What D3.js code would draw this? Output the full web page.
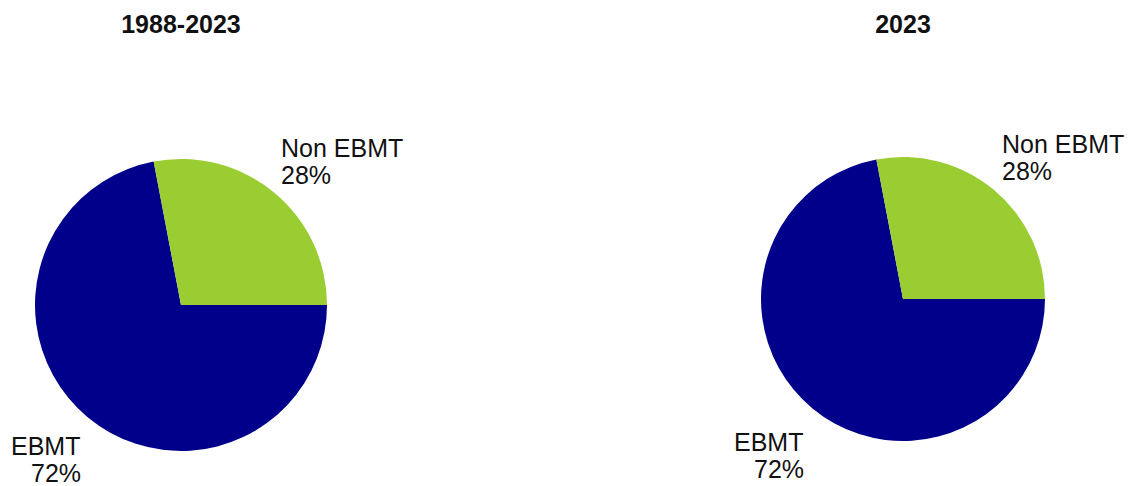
<!DOCTYPE html>
<html><head><meta charset="utf-8">
<script src="https://cdn.jsdelivr.net/npm/d3@7"></script>
<style>body{margin:0;background:#fff}svg{display:block}text{font-family:"Liberation Sans",Arial,sans-serif}</style>
</head><body>
<script>
const categories = ["EBMT", "Non EBMT"];
const panelTitles = ["1988-2023", "2023"];
const values1988_2023 = [72, 28];
const values2023 = [72, 28];
const colors = ["#00008B", "#9ACD32"];

const W = 1133, H = 486;
const svg = d3.select("body").append("svg").attr("width", W).attr("height", H);

const panels = [
  {title: panelTitles[0], values: values1988_2023, cx: 181, cy: 305, r: 146, titleY: 33,
   labels: [{x: 11, y: 455, dx2: 20}, {x: 281, y: 157, dx2: 0}]},
  {title: panelTitles[1], values: values2023, cx: 903, cy: 299, r: 142, titleY: 33,
   labels: [{x: 734, y: 451, dx2: 20}, {x: 1002, y: 153, dx2: 0}]}
];

const pie = d3.pie().sort(null).startAngle(Math.PI / 2).endAngle(Math.PI / 2 + 2 * Math.PI);
const color = d3.scaleOrdinal().domain(categories).range(colors);

panels.forEach(p => {
  const g = svg.append("g").attr("transform", `translate(${p.cx},${p.cy})`);
  const arc = d3.arc().innerRadius(0).outerRadius(p.r);
  const data = pie(p.values);
  g.selectAll("path").data(data).enter().append("path")
    .attr("d", arc).attr("fill", (d, i) => color(categories[i]));

  svg.append("text").attr("x", p.cx).attr("y", p.titleY).attr("text-anchor", "middle")
    .attr("font-size", 25).attr("font-weight", "bold").attr("fill", "#111").text(p.title);

  p.labels.forEach((l, i) => {
    const t = svg.append("text").attr("font-size", 25).attr("fill", "#111");
    t.append("tspan").attr("x", l.x).attr("y", l.y).text(categories[i]);
    t.append("tspan").attr("x", l.x + l.dx2).attr("y", l.y + 27).text(p.values[i] + "%");
  });
});
</script>
</body></html>
